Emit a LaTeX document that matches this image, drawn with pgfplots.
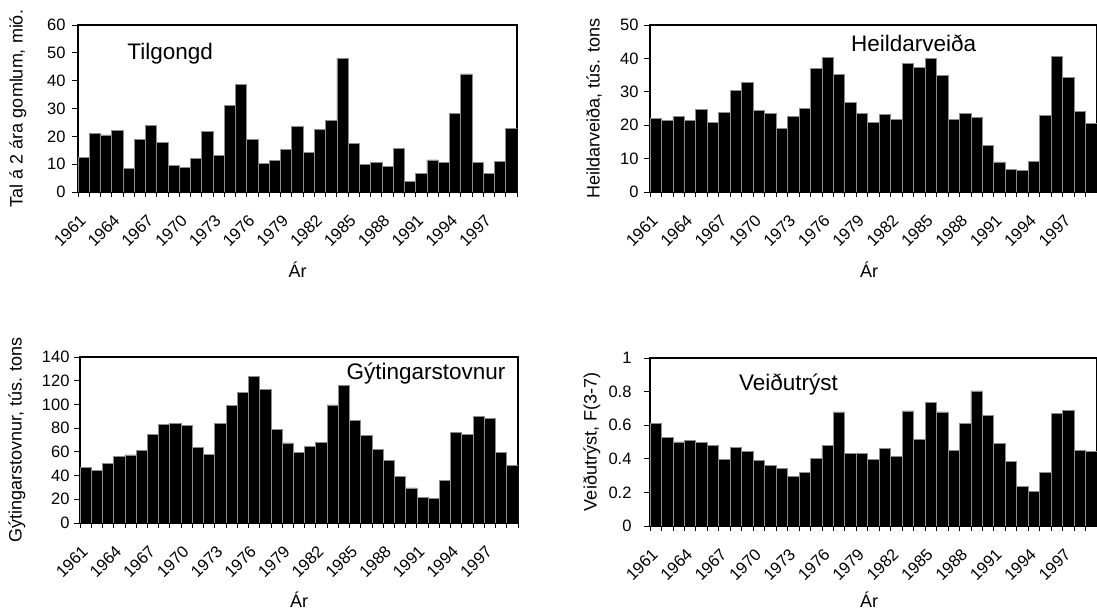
\documentclass[border=0pt]{standalone}
\usepackage{pgfplots}
\usepackage{pgfplotstable}
\pgfplotsset{compat=1.18}
\usepackage{fontspec}
\setmainfont{Liberation Sans}

\pgfplotstableread{
year tilg heild gyt veid
1961 12.4 21.9 47.1 0.610
1962 21.0 21.3 44.1 0.526
1963 20.5 22.5 49.9 0.500
1964 22.2 21.4 55.8 0.508
1965 8.5 24.6 57.4 0.496
1966 19.0 20.8 61.3 0.480
1967 23.8 23.9 74.7 0.394
1968 17.9 30.4 83.1 0.468
1969 9.6 32.8 84.2 0.442
1970 8.9 24.5 82.5 0.392
1971 12.2 23.4 63.9 0.359
1972 21.7 19.1 57.7 0.343
1973 13.0 22.5 84.2 0.297
1974 31.0 24.9 99.0 0.319
1975 38.8 37.1 110.1 0.400
1976 19.0 40.2 123.8 0.480
1977 10.3 35.3 112.7 0.679
1978 11.3 26.9 79.2 0.430
1979 15.4 23.4 67.5 0.430
1980 23.6 20.8 59.7 0.396
1981 14.3 23.3 64.7 0.462
1982 22.6 21.8 68.0 0.412
1983 25.6 38.5 99.6 0.685
1984 48.1 37.4 116.3 0.516
1985 17.6 39.9 86.2 0.733
1986 9.8 34.9 73.9 0.679
1987 10.6 21.8 62.2 0.449
1988 9.2 23.5 53.0 0.612
1989 15.6 22.4 39.6 0.804
1990 3.7 13.9 29.6 0.657
1991 6.8 9.0 21.2 0.491
1992 11.5 6.7 20.6 0.384
1993 10.6 6.4 35.7 0.238
1994 28.2 9.2 76.1 0.206
1995 42.4 23.0 75.0 0.321
1996 10.6 40.5 89.8 0.671
1997 6.8 34.4 87.8 0.689
1998 10.9 24.2 59.7 0.451
1999 22.9 20.4 48.5 0.442
}\data

\definecolor{edge}{RGB}{140,140,140}

\pgfplotsset{
  panel/.style={
    scale only axis,
    anchor=south west,
    ybar, bar width=1, bar shift=0pt,
    xmin=1960.5, xmax=1999.5, ymin=0,
    xtick={1961,1964,...,1997},
    minor xtick={1960.5,1961.5,...,1999.5},
    every major x tick/.style={draw=none},
    tick align=outside, tick pos=left,
    major tick length=6pt, minor tick length=5pt,
    tick style={black, line width=0.8pt},
    axis line style={line width=1.3pt},
    /pgf/number format/assume math mode=true,
    ticklabel style={font=\fontsize{16.5}{19}\selectfont},
    xticklabel style={rotate=45, anchor=east, inner sep=1pt},
    xticklabel shift=19pt,
    x tick label style={/pgf/number format/1000 sep={}},
    label style={font=\fontsize{18}{21}\selectfont},
    xlabel={Ár},
  },
  bars/.style={fill=black, draw=edge, line width=0.8pt},
}
\tikzset{ttl/.style={font=\fontsize{22.5}{27}\selectfont}}

\begin{document}
\begin{tikzpicture}
\path[use as bounding box] (0,0) rectangle (1097pt,610pt);

\begin{axis}[panel, at={(78pt,418pt)}, width=439pt, height=167pt,
  ymax=60, ytick={0,10,...,60}, yticklabel shift=3pt,
  ylabel={Tal á 2 ára gomlum, mió.},
  ylabel style={at={(axis description cs:-0.137,0.5)}, anchor=center},
  xlabel style={at={(axis description cs:0.5,-0.467)}, anchor=center}]
\addplot[bars] table[x=year, y=tilg]{\data};
\node[ttl] at (rel axis cs:0.21,0.83) {Tilgongd};
\end{axis}

\begin{axis}[panel, at={(650pt,418pt)}, width=447pt, height=167pt,
  ymax=50, ytick={0,10,...,50}, yticklabel shift=2pt,
  ylabel={Heildarveiða, tús. tons},
  ylabel style={at={(axis description cs:-0.125,0.5)}, anchor=center},
  xlabel style={at={(axis description cs:0.49,-0.467)}, anchor=center}]
\addplot[bars] table[x=year, y=heild]{\data};
\node[ttl] at (rel axis cs:0.59,0.89) {Heildarveiða};
\end{axis}

\begin{axis}[panel, at={(80pt,87pt)}, width=438pt, height=166pt,
  ymax=140, ytick={0,20,...,140}, yticklabel shift=1pt,
  ylabel={Gýtingarstovnur, tús. tons},
  ylabel style={at={(axis description cs:-0.144,0.5)}, anchor=center},
  xlabel style={at={(axis description cs:0.5,-0.464)}, anchor=center}]
\addplot[bars] table[x=year, y=gyt]{\data};
\node[ttl] at (rel axis cs:0.79,0.90) {Gýtingarstovnur};
\end{axis}

\begin{axis}[panel, at={(650pt,84pt)}, width=447pt, height=168pt,
  ymax=1, ytick={0,0.2,...,1}, yticklabel shift=9pt,
  ylabel={Veiðutrýst, F(3-7)},
  ylabel style={at={(axis description cs:-0.13,0.5)}, anchor=center},
  xlabel style={at={(axis description cs:0.49,-0.44)}, anchor=center}]
\addplot[bars] table[x=year, y=veid]{\data};
\node[ttl] at (rel axis cs:0.31,0.84) {Veiðutrýst};
\end{axis}
\end{tikzpicture}
\end{document}
